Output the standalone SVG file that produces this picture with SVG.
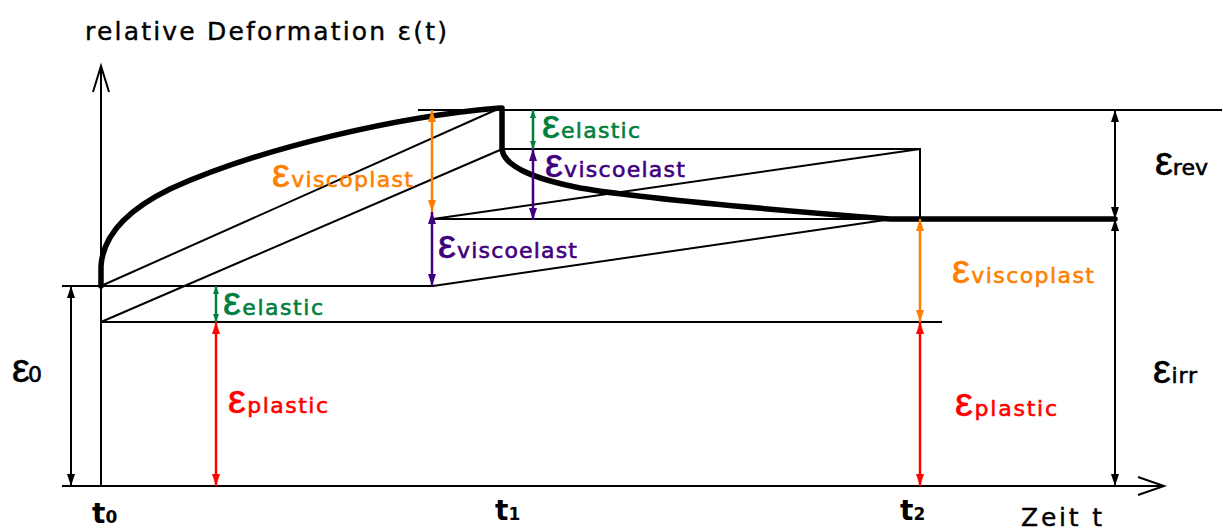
<svg xmlns="http://www.w3.org/2000/svg" width="1223" height="530" viewBox="0 0 1223 530">
<style>
.ln{stroke:#000;stroke-width:2;fill:none}
.thick{stroke:#000;stroke-width:5.5;fill:none;stroke-linejoin:round;stroke-linecap:round}
.lab{font-family:"DejaVu Sans","Liberation Sans",sans-serif;font-size:22px;stroke-width:0.6}
.eps{font-size:40px;font-family:"Liberation Sans",sans-serif}
.or{fill:#FF8000;stroke:#FF8000}.pu{fill:#40007F;stroke:#40007F}.gr{fill:#007F3F;stroke:#007F3F}.rd{fill:#FF0000;stroke:#FF0000}.bk{fill:#000;stroke:#000}
.aor{stroke:#FF8000;stroke-width:2.5;marker-start:url(#mo);marker-end:url(#mo)}
.apu{stroke:#40007F;stroke-width:2.5;marker-start:url(#mp);marker-end:url(#mp)}
.agr{stroke:#007F3F;stroke-width:2.5;marker-start:url(#mg);marker-end:url(#mg)}
.ard{stroke:#FF0000;stroke-width:2.5;marker-start:url(#mr);marker-end:url(#mr)}
.abk{stroke:#000;stroke-width:2;marker-start:url(#mk);marker-end:url(#mk)}
</style>
<defs>
<marker id="mo" markerUnits="userSpaceOnUse" viewBox="0 0 12 8" refX="12" refY="4" markerWidth="12" markerHeight="8" orient="auto-start-reverse"><path d="M0,0L12,4L0,8z" fill="#FF8000"/></marker>
<marker id="mp" markerUnits="userSpaceOnUse" viewBox="0 0 12 8" refX="12" refY="4" markerWidth="12" markerHeight="8" orient="auto-start-reverse"><path d="M0,0L12,4L0,8z" fill="#40007F"/></marker>
<marker id="mg" markerUnits="userSpaceOnUse" viewBox="0 0 8 6" refX="8" refY="3" markerWidth="8" markerHeight="6" orient="auto-start-reverse"><path d="M0,0L8,3L0,6z" fill="#007F3F"/></marker>
<marker id="mr" markerUnits="userSpaceOnUse" viewBox="0 0 12 8" refX="12" refY="4" markerWidth="12" markerHeight="8" orient="auto-start-reverse"><path d="M0,0L12,4L0,8z" fill="#FF0000"/></marker>
<marker id="mk" markerUnits="userSpaceOnUse" viewBox="0 0 12 8" refX="12" refY="4" markerWidth="12" markerHeight="8" orient="auto-start-reverse"><path d="M0,0L12,4L0,8z" fill="#000"/></marker>
</defs>
<rect width="1223" height="530" fill="#fff"/>
<g id="axes">
<path class="ln" d="M101,487V67M93,92L101,66L109,92"/>
<path class="ln" d="M62,486H1163M1138,477L1164,486L1138,495"/>
</g>
<g id="construction-lines">
<path class="ln" d="M62,286H433L892,219"/>
<path class="ln" d="M101,322H942"/>
<path class="ln" d="M418,110H1222"/>
<path class="ln" d="M502,149H920V219"/>
<path class="ln" d="M433,219H920M433,219L920,149"/>
<path class="ln" d="M101,286L500,108"/>
<path class="ln" d="M101,322L500,150"/>
</g>
<g id="curve">
<path class="thick" d="M101,286L101,266C103,236 125,211 170,189C260,148 400,116 500,108"/>
<path class="thick" d="M502,108V150C505,166 530,178 580,188C650,200 800,212 890,219H1115"/>
</g>
<g id="connectors">
<line class="aor" x1="432" y1="110" x2="432" y2="212"/>
<line class="apu" x1="432" y1="212" x2="432" y2="286"/>
<line class="agr" x1="533" y1="110" x2="533" y2="149"/>
<line class="apu" x1="533" y1="149" x2="533" y2="220"/>
<line class="agr" x1="216" y1="286" x2="216" y2="322"/>
<line class="ard" x1="216" y1="322" x2="216" y2="486"/>
<line class="ard" x1="920" y1="322" x2="920" y2="486"/>
<line class="aor" x1="920" y1="219" x2="920" y2="322"/>
<line class="abk" x1="1115" y1="110" x2="1115" y2="219"/>
<line class="abk" x1="1115" y1="219" x2="1115" y2="486"/>
<line class="abk" x1="71" y1="286" x2="71" y2="486"/>
</g>
<g id="labels">
<text class="lab bk" x="85" y="40" style="font-size:25px;stroke-width:0.4" textLength="362">relative Deformation ε(t)</text>
<text class="lab or" x="272" y="187" textLength="141"><tspan class="eps">ε</tspan>viscoplast</text>
<text class="lab pu" x="438" y="258" textLength="139"><tspan class="eps">ε</tspan>viscoelast</text>
<text class="lab gr" x="542" y="138" textLength="98"><tspan class="eps">ε</tspan>elastic</text>
<text class="lab pu" x="545" y="177" textLength="140"><tspan class="eps">ε</tspan>viscoelast</text>
<text class="lab or" x="952" y="283" textLength="142"><tspan class="eps">ε</tspan>viscoplast</text>
<text class="lab rd" x="955" y="416" textLength="102"><tspan class="eps">ε</tspan>plastic</text>
<text class="lab rd" x="228" y="413" textLength="100"><tspan class="eps">ε</tspan>plastic</text>
<text class="lab gr" x="223" y="315" textLength="100"><tspan class="eps">ε</tspan>elastic</text>
<text class="lab bk" x="1155" y="175" textLength="53"><tspan class="eps">ε</tspan>rev</text>
<text class="lab bk" x="1153" y="383" textLength="44"><tspan class="eps">ε</tspan>irr</text>
<text class="lab bk" x="12" y="382" textLength="30"><tspan class="eps">ε</tspan>0</text>
<text class="lab bk" x="92" y="523" style="font-size:28px;font-weight:bold;stroke-width:0">t<tspan style="font-size:17px">0</tspan></text>
<text class="lab bk" x="495" y="520" style="font-size:28px;font-weight:bold;stroke-width:0">t<tspan style="font-size:17px">1</tspan></text>
<text class="lab bk" x="900" y="520" style="font-size:28px;font-weight:bold;stroke-width:0">t<tspan style="font-size:17px">2</tspan></text>
<text class="lab bk" x="1021" y="526" style="font-size:25px;stroke-width:0.4" textLength="81">Zeit  t</text>
</g>
</svg>
